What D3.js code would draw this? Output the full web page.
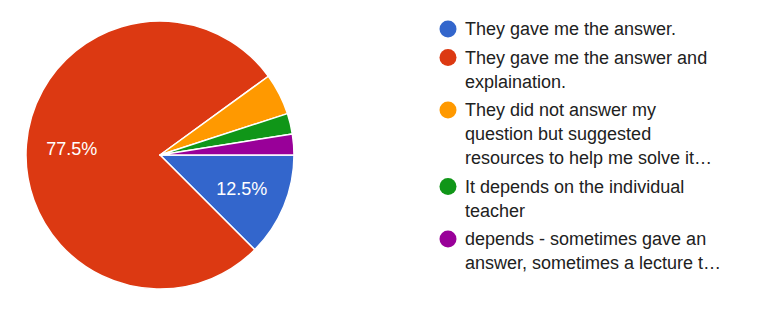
<!DOCTYPE html>
<html>
<head>
<meta charset="utf-8">
<script src="https://cdn.jsdelivr.net/npm/d3@7"></script>
<style>
body{margin:0;background:#fff;}
svg{display:block;font-family:Arial,"Liberation Sans",sans-serif;}
</style>
</head>
<body>
<svg id="canvas" width="760" height="309"></svg>
<script>
// responses (n = 40)
let categories=["They gave me the answer.","They gave me the answer and explaination.","They did not answer my question but suggested resources to help me solve it…","It depends on the individual teacher","depends - sometimes gave an answer, sometimes a lecture t…"];
let values=[5,31,2,1,1];
let colors=["#3366cc","#dc3912","#ff9900","#109618","#990099"];
// legend lines as wrapped in the picture
let legendLines=[
  ["They gave me the answer."],
  ["They gave me the answer and","explaination."],
  ["They did not answer my","question but suggested","resources to help me solve it…"],
  ["It depends on the individual","teacher"],
  ["depends - sometimes gave an","answer, sometimes a lecture t…"]
];

let canvas=d3.select("#canvas");
let cx=160, cy=155, r=134;
let total=d3.sum(values);

let pie=d3.pie().sort(null).value(d=>d).startAngle(Math.PI/2).endAngle(Math.PI/2+2*Math.PI);
let arc=d3.arc().innerRadius(0).outerRadius(r);
let labelArc=d3.arc().innerRadius(r*0.66).outerRadius(r*0.66);

let g=canvas.append("g").attr("transform","translate("+cx+","+cy+")");
let arcs=pie(values);
g.selectAll("path").data(arcs).enter().append("path")
  .attr("d",arc).attr("fill",(d,i)=>colors[i])
  .attr("stroke","#fff").attr("stroke-width",1.5).attr("stroke-linejoin","round");

let fmt=d3.format(".1%");
g.selectAll("text").data(arcs.filter(d=>d.value/total>0.1)).enter().append("text")
  .attr("transform",d=>"translate("+labelArc.centroid(d)+")")
  .attr("text-anchor","middle").attr("dy","0.36em")
  .style("font-size","18px").style("fill","#fff")
  .text(d=>fmt(d.value/total));

// legend
let lx=448, tx=465, lineH=24, itemGap=28.5;
let y=29;
legendLines.forEach((lines,i)=>{
  canvas.append("circle").attr("cx",lx).attr("cy",y).attr("r",8.5).attr("fill",colors[i]);
  lines.forEach((t,j)=>{
    canvas.append("text").attr("x",tx).attr("y",y+j*lineH).attr("dy","0.36em")
      .style("font-size","18px").style("fill","#212121").text(t);
  });
  y+=(lines.length-1)*lineH+itemGap;
});
</script>
</body>
</html>
